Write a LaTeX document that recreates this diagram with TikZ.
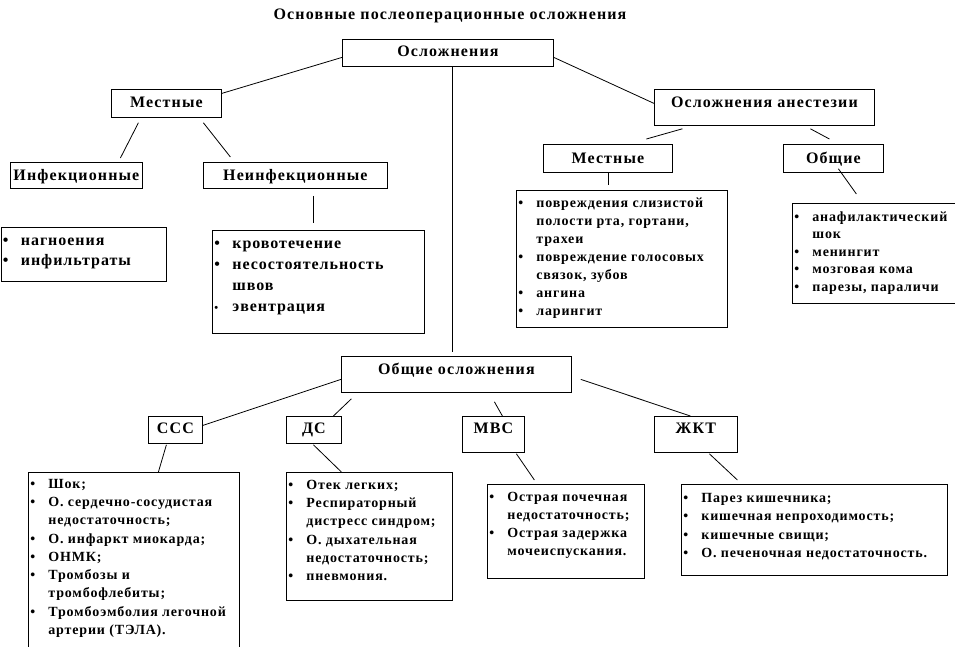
\documentclass[tikz,border=0pt]{standalone}
\usepackage{fontspec}
\setmainfont{Liberation Serif}
\usepackage{tikz}

\newcommand{\hdf}{\fontsize{16}{18}\selectfont\bfseries\addfontfeature{LetterSpace=7}}
\newcommand{\lsf}[3]{\fontsize{#1}{#2}\selectfont\bfseries\addfontfeature{LetterSpace=#3}}
\newcommand{\itm}[1]{\strut\makebox[20pt][l]{\hspace{2pt}\textbullet}#1\par}
\newcommand{\itms}[1]{\strut\makebox[20pt][l]{\hspace{2pt}{\fontsize{11}{11}\selectfont\textbullet}}#1\par}
\newcommand{\cnt}[1]{\strut\hspace*{20pt}#1\par}

\begin{document}
\begin{tikzpicture}[x=1pt,y=-1pt,line width=0.8pt]
\tikzstyle{hd}=[draw, inner sep=0pt, anchor=north west, font=\hdf]
\tikzstyle{lst}=[draw, inner sep=0pt, anchor=north west]
\useasboundingbox (0,0) rectangle (955,647);
\node [anchor=base, font=\hdf] (title) at (450,20) {Основные послеоперационные осложнения};
\node [hd, minimum width=211pt, text height=17pt, text depth=10pt] (osl) at (342,39) {Осложнения};
\node [hd, minimum width=110pt, text height=18pt, text depth=10pt] (mestL) at (111,89) {Местные};
\node [hd, minimum width=132pt, text height=18pt, text depth=8pt] (inf) at (10,162) {Инфекционные};
\node [hd, minimum width=184pt, text height=18pt, text depth=8pt] (neinf) at (203,162) {Неинфекционные};
\node [hd, minimum width=220pt, text height=18pt, text depth=18pt] (anes) at (654,89) {Осложнения анестезии};
\node [hd, minimum width=129pt, text height=19pt, text depth=9pt] (mestR) at (543,144) {Местные};
\node [hd, minimum width=100pt, text height=19pt, text depth=9pt] (obR) at (783,144) {Общие};
\node [hd, minimum width=230pt, text height=18pt, text depth=18pt] (obsh) at (341,356) {Общие осложнения};
\node [hd, minimum width=54pt, text height=17pt, text depth=10pt] (sss) at (148,416) {ССС};
\node [hd, minimum width=55pt, text height=17pt, text depth=10pt] (ds) at (286,416) {ДС};
\node [hd, minimum width=62pt, text height=17pt, text depth=19pt] (mvs) at (462,416) {МВС};
\node [hd, minimum width=83pt, text height=17pt, text depth=19pt] (zhkt) at (654,416) {ЖКТ};

\node [lst] (infl) at (0.5,227) {\parbox[t][54pt][t]{165.5pt}{\lsf{16}{20}{6}\vspace*{4pt}%
\itm{нагноения}\itm{инфильтраты}}};
\node [lst] (krovl) at (212,230) {\parbox[t][103pt][t]{212pt}{\lsf{16}{21}{6}\vspace*{3.3pt}%
\itm{кровотечение}\itm{несостоятельность}\cnt{швов}\itms{эвентрация}}};
\node [lst] (povrl) at (516,190) {\parbox[t][137pt][t]{211pt}{\lsf{14}{18}{6}\vspace*{4.4pt}%
\itm{повреждения слизистой}\cnt{полости рта, гортани,}\cnt{трахеи}%
\itm{повреждение голосовых}\cnt{связок, зубов}\itm{ангина}\itm{ларингит}}};
\node [lst] (anafl) at (792,203) {\parbox[t][100pt][t]{162.5pt}{\lsf{14}{17.5}{6}\vspace*{5.75pt}%
\itm{анафилактический}\cnt{шок}\itm{менингит}\itm{мозговая кома}\itm{парезы, параличи}}};
\node [lst] (sssl) at (28,472) {\parbox[t][174.5pt][t]{211pt}{\lsf{14}{18.25}{6}\vspace*{3.2pt}%
\itm{Шок;}\itm{О. сердечно-сосудистая}\cnt{недостаточность;}\itm{О. инфаркт миокарда;}%
\itm{ОНМК;}\itm{Тромбозы и}\cnt{тромбофлебиты;}\itm{Тромбоэмболия легочной}\cnt{артерии (ТЭЛА).}}};
\node [lst] (dsl) at (286,472) {\parbox[t][128pt][t]{166pt}{\lsf{14}{18.2}{6}\vspace*{4.3pt}%
\itm{Отек легких;}\itm{Респираторный}\cnt{дистресс синдром;}\itm{О. дыхательная}%
\cnt{недостаточность;}\itm{пневмония.}}};
\node [lst] (mvsl) at (487,484) {\parbox[t][94pt][t]{157pt}{\lsf{14}{18}{6}\vspace*{4.4pt}%
\itm{Острая почечная}\cnt{недостаточность;}\itm{Острая задержка}\cnt{мочеиспускания.}}};
\node [lst] (zhktl) at (681,484) {\parbox[t][91pt][t]{266pt}{\lsf{14}{18.3}{6}\vspace*{5.2pt}%
\itm{Парез кишечника;}\itm{кишечная непроходимость;}\itm{кишечные свищи;}%
\itm{О. печеночная недостаточность.}}};

\draw ([yshift=-4.5pt]osl.west) -- ([yshift=10pt]mestL.east);
\draw ([yshift=-4.5pt]osl.east) -- ([yshift=4pt]anes.west);
\draw ([xshift=4.5pt]osl.south) -- ([xshift=-4pt,yshift=4pt]obsh.north);
\draw ([xshift=-28pt,yshift=-5pt]mestL.south) -- ([xshift=44pt,yshift=4pt]inf.north);
\draw ([xshift=37pt,yshift=-5pt]mestL.south) -- ([xshift=-65pt,yshift=5pt]neinf.north);
\draw ([xshift=18pt,yshift=-7pt]neinf.south) -- ([xshift=-5pt,yshift=7pt]krovl.north);
\draw ([xshift=-82pt,yshift=-3pt]anes.south) -- ([xshift=38.5pt,yshift=5pt]mestR.north);
\draw ([xshift=46pt,yshift=-3pt]anes.south) -- ([xshift=-4pt,yshift=5pt]obR.north);
\draw ([xshift=0.5pt]mestR.south) -- ([xshift=-13.5pt,yshift=5pt]povrl.north);
\draw ([xshift=5pt,yshift=4pt]obR.south) -- ([xshift=-17.25pt,yshift=9pt]anafl.north);
\draw ([yshift=-5pt]obsh.west) -- ([yshift=4.5pt]sss.east);
\draw ([xshift=-105pt,yshift=-6pt]obsh.south) -- ([xshift=19.5pt]ds.north);
\draw ([xshift=38pt,yshift=-9pt]obsh.south) -- ([xshift=9pt]mvs.north);
\draw ([xshift=9pt,yshift=-5pt]obsh.east) -- ([xshift=-5.5pt]zhkt.north);
\draw ([xshift=-9pt,yshift=-1pt]sss.south) -- ([xshift=24.5pt]sssl.north);
\draw ([xshift=-0.5pt,yshift=-1pt]ds.south) -- ([xshift=-28pt]dsl.north);
\draw ([xshift=23pt,yshift=-1pt]mvs.south) -- ([xshift=-31.5pt,yshift=4pt]mvsl.north);
\draw ([xshift=13.5pt,yshift=-1pt]zhkt.south) -- ([xshift=-77pt,yshift=4pt]zhktl.north);
\end{tikzpicture}
\end{document}
